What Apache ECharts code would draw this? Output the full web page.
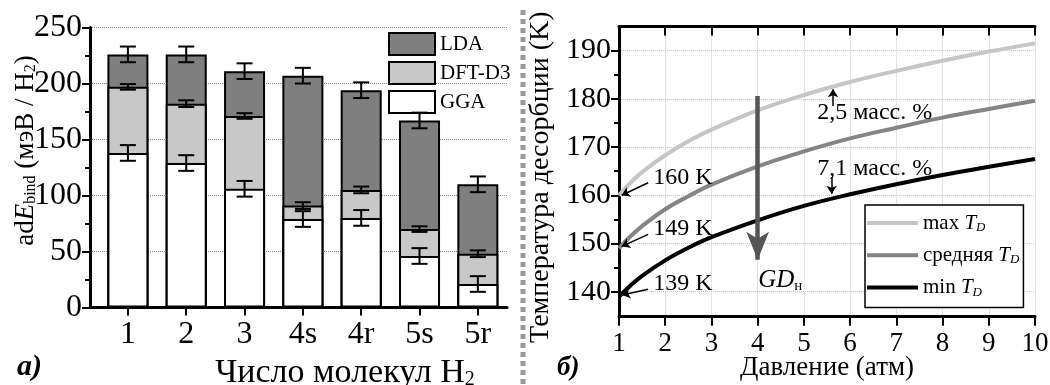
<!DOCTYPE html>
<html><head><meta charset="utf-8">
<script src="https://cdn.jsdelivr.net/npm/echarts@6/dist/echarts.min.js"></script>
<style>html,body{margin:0;padding:0;background:#fff}#c{width:1050px;height:385px}</style>
</head><body><div id="c"></div>
<script>
// ---- panel a) data ----
const categories = ['1', '2', '3', '4s', '4r', '5s', '5r'];
const ggaValues = [138, 129, 106, 79, 80, 46, 21];
const dftValues = [197, 182, 171, 91, 105, 70, 48];
const ldaValues = [226, 226, 211, 207, 194, 167, 110];
const ggaErr = [7, 7, 7, 7, 7, 7, 7];
const dftErr = [2.5, 3, 2.5, 3, 3, 2.5, 3];
const ldaErr = [7, 7, 7, 7, 7, 7, 7];
const yTicksLeft = [0, 50, 100, 150, 200, 250];

// ---- panel б) data ----
const pressure = [1, 1.25, 1.5, 2, 2.5, 3, 4, 5, 6, 7, 8, 9, 10];
const tdMax = [160, 162.6, 164.8, 168.3, 171.2, 173.6, 177.6, 180.8, 183.5, 185.8, 187.9, 189.8, 191.5];
const tdMid = [149, 151.5, 153.6, 157.1, 159.8, 162.2, 166.0, 169.1, 171.8, 174.0, 176.1, 177.9, 179.6];
const tdMin = [139, 141.3, 143.3, 146.5, 149.1, 151.3, 154.8, 157.8, 160.2, 162.3, 164.2, 165.9, 167.5];
const pressureTicks = [1, 2, 3, 4, 5, 6, 7, 8, 9, 10];
const tempTicks = [140, 150, 160, 170, 180, 190];
const tempMinorTicks = [145, 155, 165, 175, 185];

const FONT = 'Liberation Serif, Times New Roman, serif';
const xPos = categories.map((c, i) => i + 1);

function barSeries(name, vals, color) {
  return {
    type: 'bar', name: name, xAxisIndex: 0, yAxisIndex: 0,
    data: xPos.map((x, i) => [x, vals[i]]),
    barWidth: 41, barGap: '-100%', z: 2,
    itemStyle: { color: color, borderColor: '#000', borderWidth: 2 }
  };
}
function errRender(params, api) {
  const x = api.value(0), v = api.value(1), e = api.value(2);
  const hi = api.coord([x, v + e]), lo = api.coord([x, v - e]);
  const w = 8, st = { stroke: '#000', lineWidth: 2 };
  return { type: 'group', children: [
    { type: 'line', shape: { x1: hi[0], y1: hi[1], x2: lo[0], y2: lo[1] }, style: st },
    { type: 'line', shape: { x1: hi[0] - w, y1: hi[1], x2: hi[0] + w, y2: hi[1] }, style: st },
    { type: 'line', shape: { x1: lo[0] - w, y1: lo[1], x2: lo[0] + w, y2: lo[1] }, style: st }
  ]};
}
function errSeries(vals, errs) {
  return { type: 'custom', xAxisIndex: 0, yAxisIndex: 0, z: 5, silent: true,
    renderItem: errRender, encode: { x: 0, y: 1 },
    data: xPos.map((x, i) => [x, vals[i], errs[i]]) };
}
function curve(name, vals, color) {
  return { type: 'line', name: name, xAxisIndex: 1, yAxisIndex: 1,
    data: pressure.map((p, i) => [p, vals[i]]), smooth: 0.4, symbol: 'none', showSymbol: false,
    lineStyle: { color: color, width: 4 }, itemStyle: { color: color }, z: 3 };
}

const minSeries = curve('min', tdMin, '#000');
minSeries.markPoint = {
  symbol: 'circle', symbolSize: 0, silent: true,
  label: { show: true, position: 'right', distance: 0, color: '#000', fontSize: 24, fontFamily: FONT,
    formatter: '{b}',
    rich: { i: { fontStyle: 'italic', fontSize: 25, fontFamily: FONT, color: '#000' },
            s: { fontSize: 15, fontFamily: FONT, color: '#000', padding: [11, 0, 0, 0] } } },
  data: [
    { name: '160 K', coord: [1.74, 163.6] },
    { name: '149 K', coord: [1.74, 153.0] },
    { name: '139 K', coord: [1.74, 141.6] },
    { name: '2,5 масс. %', coord: [5.29, 177.1] },
    { name: '7,1 масс. %', coord: [5.29, 165.5] },
    { name: '{i|GD}{s|н}', coord: [4.01, 142.3] }
  ]
};
minSeries.markLine = {
  silent: true, symbol: ['none', 'arrow'], symbolSize: 8,
  lineStyle: { color: '#000', width: 1.5, type: 'solid' }, label: { show: false },
  data: [
    [{ coord: [1.63, 162.6] }, { coord: [1.06, 160.0] }],
    [{ coord: [1.63, 151.9] }, { coord: [1.06, 149.4] }],
    [{ coord: [1.63, 140.5] }, { coord: [1.07, 139.3] }],
    [{ coord: [5.63, 178.5] }, { coord: [5.63, 182.0] }],
    [{ coord: [5.6, 163.8] }, { coord: [5.6, 160.3] }],
    [{ coord: [4, 180.6], lineStyle: { color: '#555', width: 4.5 } },
     { coord: [4, 146.6], symbol: 'arrow', symbolSize: [17, 28] }]
  ]
};

const option = {
  animation: false,
  textStyle: { fontFamily: FONT, color: '#000' },
  grid: [
    { left: 90, top: 27.5, width: 417, height: 280, outerBoundsMode: 'none', containLabel: false },
    { left: 619, top: 26.5, width: 416, height: 289.3, outerBoundsMode: 'none', containLabel: false }
  ],
  legend: [
    { data: ['LDA', 'DFT-D3', 'GGA'], orient: 'vertical', left: 388, top: 32, padding: 0,
      itemWidth: 46, itemHeight: 22, itemGap: 5, icon: 'rect',
      itemStyle: { borderColor: '#000', borderWidth: 2 },
      textStyle: { fontSize: 21, fontFamily: FONT, color: '#000' } },
    { data: [{ name: 'max', icon: 'rect' }, { name: 'средняя', icon: 'rect' }, { name: 'min', icon: 'rect' }],
      orient: 'vertical', left: 865, top: 205,
      padding: [7, 4, 9, 2], itemWidth: 51, itemHeight: 4, itemGap: 10.3,
      borderColor: '#000', borderWidth: 1.5, backgroundColor: '#fff',
      itemStyle: { borderWidth: 0 },
      formatter: n => n + ' {i|T}{s|D}',
      textStyle: { fontSize: 21, lineHeight: 22, fontFamily: FONT, color: '#000',
        rich: { i: { fontStyle: 'italic', fontSize: 21, lineHeight: 22, fontFamily: FONT },
                s: { fontStyle: 'italic', fontSize: 13, lineHeight: 13, fontFamily: FONT, padding: [9, 0, 0, 0] } } } }
  ],
  xAxis: [
    { gridIndex: 0, type: 'value', min: 0.35, max: 7.5,
      axisLine: { show: true, onZero: false, lineStyle: { color: '#000', width: 3 } },
      axisTick: { show: true, customValues: xPos, length: 8, lineStyle: { color: '#000', width: 2 } },
      axisLabel: { customValues: xPos, formatter: v => categories[Math.round(v) - 1], fontSize: 32, color: '#000', margin: 11, fontFamily: FONT },
      splitLine: { show: false },
      name: 'Число молекул H{s|2}', nameLocation: 'middle', nameGap: 49, nameMoveOverlap: false,
      nameTextStyle: { fontSize: 34, fontFamily: FONT, color: '#000', padding: [0, 0, 0, 93],
        rich: { s: { fontSize: 20, fontFamily: FONT, padding: [13, 0, 0, 0] } } } },
    { gridIndex: 1, type: 'value', min: 1, max: 10, interval: 1,
      axisLine: { show: true, onZero: false, lineStyle: { color: '#000', width: 3 } },
      axisTick: { show: true, length: 10, lineStyle: { color: '#000', width: 2 } },
      axisLabel: { fontSize: 27, color: '#000', margin: 15, fontFamily: FONT },
      splitLine: { show: true, lineStyle: { color: '#c8c8c8', type: 'dotted', width: 1 } },
      name: 'Давление (атм)', nameLocation: 'middle', nameGap: 39, nameMoveOverlap: false,
      nameTextStyle: { fontSize: 27, fontFamily: FONT, color: '#000' } },
    { gridIndex: 1, type: 'value', position: 'top', min: 1, max: 10, interval: 1,
      axisLine: { show: true, onZero: false, lineStyle: { color: '#000', width: 3 } },
      axisTick: { show: true, inside: true, length: 9, lineStyle: { color: '#000', width: 2 } },
      axisLabel: { show: false }, splitLine: { show: false } }
  ],
  yAxis: [
    { gridIndex: 0, type: 'value', min: 0, max: 250, interval: 50,
      axisLine: { show: true, onZero: false, lineStyle: { color: '#000', width: 3 } },
      axisTick: { show: true, length: 8, lineStyle: { color: '#000', width: 2 } },
      minorTick: { show: true, splitNumber: 2, length: 5, lineStyle: { color: '#000', width: 2 } },
      axisLabel: { fontSize: 32, color: '#000', margin: 8, fontFamily: FONT },
      splitLine: { show: true, lineStyle: { color: '#888', type: 'dotted', width: 1 } },
      name: '{gap| }ad{i|E}{s|bind} (мэВ / H{s|2})', nameLocation: 'middle', nameGap: 51, nameMoveOverlap: false,
      nameTextStyle: { fontSize: 27, fontFamily: FONT, color: '#000',
        rich: { gap: { width: 34, fontSize: 27 },
                i: { fontStyle: 'italic', fontSize: 27, fontFamily: FONT },
                s: { fontSize: 16, fontFamily: FONT, padding: [11, 0, 0, 0] } } } },
    { gridIndex: 1, type: 'value', position: 'left', min: 135, max: 195,
      axisLine: { show: true, onZero: false, lineStyle: { color: '#000', width: 3 } },
      axisTick: { show: true, customValues: tempTicks, length: 8, lineStyle: { color: '#000', width: 2 } },
      axisLabel: { customValues: tempTicks, fontSize: 30, color: '#000', margin: 8, fontFamily: FONT },
      splitLine: { show: true, lineStyle: { color: '#c8c8c8', type: 'dotted', width: 1 } },
      name: 'Температура десорбции (K)', nameLocation: 'middle', nameGap: 64, nameMoveOverlap: false,
      nameTextStyle: { fontSize: 28, fontFamily: FONT, color: '#000', padding: [0, 12, 0, 0] } },
    { gridIndex: 1, type: 'value', position: 'left', min: 135, max: 195,
      axisLine: { show: false },
      axisTick: { show: true, customValues: tempMinorTicks, length: 5, lineStyle: { color: '#000', width: 2 } },
      axisLabel: { show: false }, splitLine: { show: false } }
  ],
  series: [
    barSeries('LDA', ldaValues, '#7f7f7f'),
    barSeries('DFT-D3', dftValues, '#c8c8c8'),
    barSeries('GGA', ggaValues, '#ffffff'),
    errSeries(ldaValues, ldaErr),
    errSeries(dftValues, dftErr),
    errSeries(ggaValues, ggaErr),
    curve('max', tdMax, '#c6c6c6'),
    curve('средняя', tdMid, '#858585'),
    minSeries
  ],
  graphic: [
    { type: 'line', shape: { x1: 523, y1: 10, x2: 523, y2: 385 }, style: { stroke: '#999', lineWidth: 5, lineDash: [5, 4] }, silent: true },
    { type: 'text', left: 17, top: 352, style: { text: 'a)', font: 'italic bold 30px Liberation Serif', fill: '#000' } },
    { type: 'text', left: 557, top: 355, style: { text: 'б)', font: 'italic bold 27px Liberation Serif', fill: '#000' } }
  ]
};
const chart = echarts.init(document.getElementById('c'));
chart.setOption(option);
</script>
</body></html>
